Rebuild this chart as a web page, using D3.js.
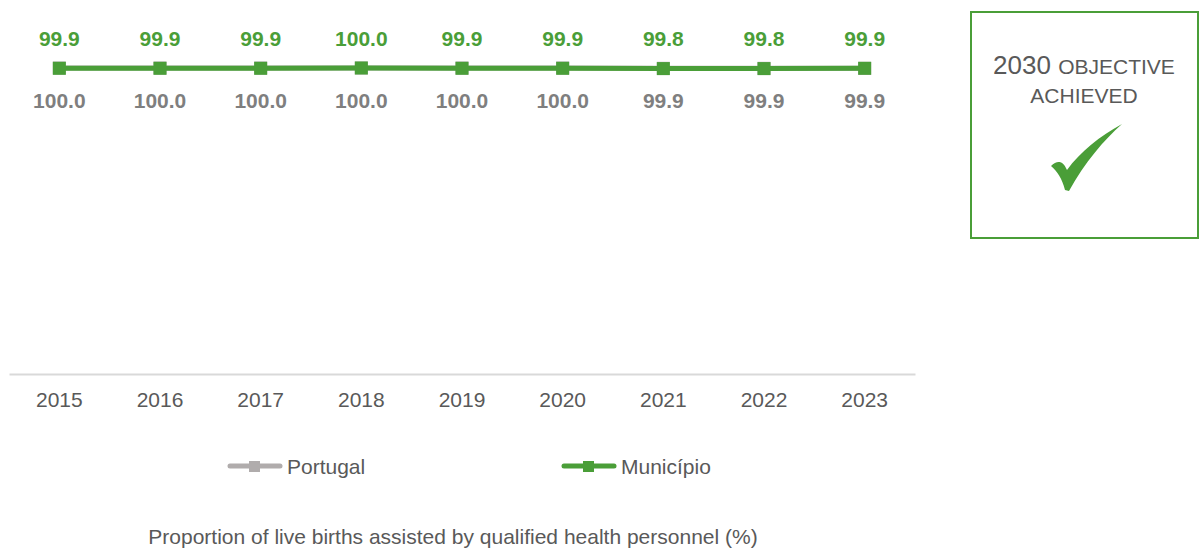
<!DOCTYPE html>
<html>
<head>
<meta charset="utf-8">
<script src="https://cdn.jsdelivr.net/npm/d3@7"></script>
<style>
  body { margin: 0; background: #fff; }
  text { font-family: "Liberation Sans", Arial, sans-serif; }
</style>
</head>
<body>
<div id="chart-area"></div>
<script>
const years = ['2015', '2016', '2017', '2018', '2019', '2020', '2021', '2022', '2023']
const portugal = [100.0, 100.0, 100.0, 100.0, 100.0, 100.0, 99.9, 99.9, 99.9]
const municipio = [99.9, 99.9, 99.9, 100.0, 99.9, 99.9, 99.8, 99.8, 99.9]
const seriesNames = ['Portugal', 'Município']
const title = 'Proportion of live births assisted by qualified health personnel (%)'

const green = '#4a9e38'
const grey = '#b0acac'

const svg = d3.select('#chart-area').append('svg')
    .attr('width', 1200)
    .attr('height', 549)

const x = d3.scaleBand()
    .domain(years)
    .range([9, 915])

const y = d3.scaleLinear()
    .domain([0, 100])
    .range([374, 68])

// x axis
const xAxis = svg.append('g')
    .attr('transform', 'translate(0, 374)')
    .call(d3.axisBottom(x).tickSize(0).tickPadding(18))
xAxis.select('.domain').attr('stroke', '#d9d9d9').attr('stroke-width', 2)
xAxis.selectAll('text')
    .attr('font-size', '21px')
    .attr('fill', '#595959')
    .style('font-family', '"Liberation Sans", Arial, sans-serif')

const line = d3.line()
    .x((d, i) => x(years[i]) + x.bandwidth() / 2)
    .y(d => y(d))

const series = [
    { name: 'Portugal', values: portugal, color: grey, labelColor: '#7f7f7f', dy: 40 },
    { name: 'Município', values: municipio, color: green, labelColor: green, dy: -22 }
]

series.forEach(s => {
    svg.append('path')
        .datum(s.values)
        .attr('fill', 'none')
        .attr('stroke', s.color)
        .attr('stroke-width', 5)
        .attr('d', line)

    svg.selectAll(null).data(s.values).enter()
        .append('rect')
        .attr('x', (d, i) => x(years[i]) + x.bandwidth() / 2 - 6.5)
        .attr('y', d => y(d) - 6.5)
        .attr('width', 13)
        .attr('height', 13)
        .attr('fill', s.color)
})

// labels
series.forEach(s => {
    svg.selectAll(null).data(s.values).enter()
        .append('text')
        .attr('x', (d, i) => x(years[i]) + x.bandwidth() / 2)
        .attr('y', d => y(100) + s.dy)
        .attr('text-anchor', 'middle')
        .attr('font-size', '21px')
        .attr('font-weight', 'bold')
        .attr('fill', s.labelColor)
        .text(d => d.toFixed(1))
})

// legend
const legendX = [228, 562]
series.forEach((s, i) => {
    const g = svg.append('g').attr('transform', `translate(${legendX[i]}, 466)`)
    g.append('line')
        .attr('x1', 2).attr('x2', 52)
        .attr('stroke', s.color).attr('stroke-width', 5)
        .attr('stroke-linecap', 'round')
    g.append('rect')
        .attr('x', 21).attr('y', -5).attr('width', 11).attr('height', 11)
        .attr('fill', s.color)
    g.append('text')
        .attr('x', 59).attr('y', 8)
        .attr('font-size', '21px')
        .attr('fill', '#595959')
        .text(seriesNames[i])
})

// title
svg.append('text')
    .attr('x', 453)
    .attr('y', 544)
    .attr('text-anchor', 'middle')
    .attr('font-size', '21px')
    .attr('fill', '#595959')
    .text(title)

// objective box
const box = svg.append('g')
box.append('rect')
    .attr('x', 971).attr('y', 12)
    .attr('width', 227).attr('height', 226)
    .attr('fill', '#fff')
    .attr('stroke', green).attr('stroke-width', 2)

const t1 = box.append('text')
    .attr('x', 1084).attr('y', 74)
    .attr('text-anchor', 'middle')
    .attr('fill', '#595959')
t1.append('tspan').attr('font-size', '26px').text('2030 ')
t1.append('tspan').attr('font-size', '21px').text('OBJECTIVE')
box.append('text')
    .attr('x', 1084).attr('y', 103)
    .attr('text-anchor', 'middle')
    .attr('font-size', '21px')
    .attr('fill', '#595959')
    .text('ACHIEVED')

// check mark
box.append('path')
    .attr('d', 'M1051,166 C1057,160 1063,160 1067,170 C1080,152 1100,136 1122,124 C1104,140 1085,162 1069,191 L1065,190 C1062,178 1057,171 1051,166 Z')
    .attr('fill', green)
</script>
</body>
</html>
